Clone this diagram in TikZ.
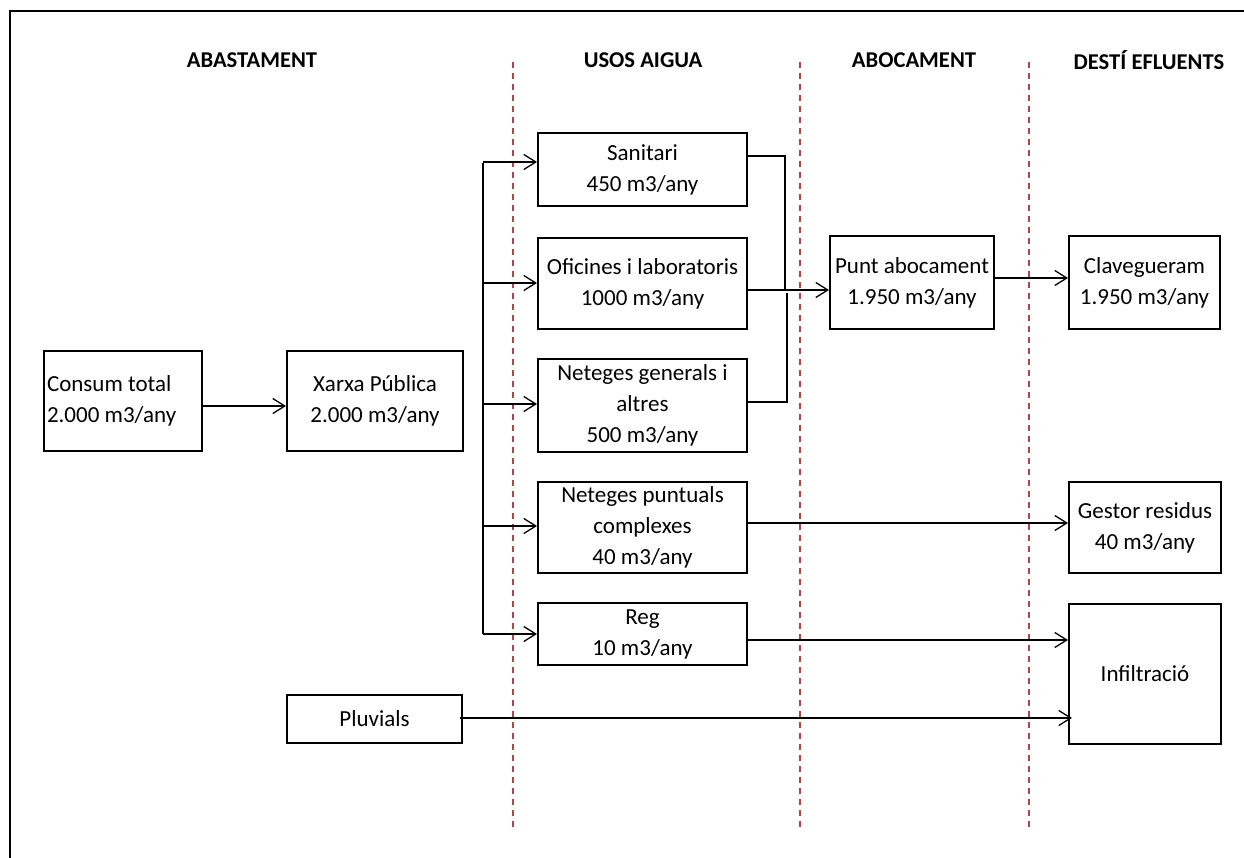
\documentclass[tikz,border=0pt]{standalone}
\usepackage{fontspec}
\setmainfont{Carlito}
\usetikzlibrary{arrows.meta}
\definecolor{sep}{RGB}{172,72,72}
\tikzset{
  box/.style={draw=black, line width=2pt, rectangle, inner sep=2pt, align=center,
    font=\fontsize{23}{31}\selectfont},
  hdr/.style={font=\fontsize{22.6}{26}\selectfont\bfseries},
  conn/.style={line width=1.3pt},
  arr/.style={conn, -{Straight Barb[length=12pt,width=15pt,line width=1.3pt]}},
  sepline/.style={draw=sep, line width=1.4pt, dash pattern=on 6pt off 5pt},
  frame/.style={line width=2pt}
}
\begin{document}
\begin{tikzpicture}[x=1pt,y=-1pt]
\useasboundingbox (0,0) rectangle (1244,858);
% frame
\draw[frame] (10,858) -- (10,11) -- (1244,11);
% headers
\node[hdr] (h1) at (252,60) {ABASTAMENT};
\node[hdr] (h2) at (643,60) {USOS AIGUA};
\node[hdr] (h3) at (914,60) {ABOCAMENT};
\node[hdr] (h4) at (1149,60) {DESTÍ EFLUENTS};
% separators
\draw[sepline] (513,62) -- (513,828);
\draw[sepline] (800,62) -- (800,828);
\draw[sepline] (1029,62) -- (1029,828);
% boxes
\node[box, minimum width=158pt, minimum height=100pt, text width=152pt, align=flush left] (consum) at (123,401) {Consum total\\2.000 m3/any};
\node[box, minimum width=176pt, minimum height=100pt] (xarxa) at (375,401) {Xarxa Pública\\2.000 m3/any};
\node[box, minimum width=209pt, minimum height=73pt] (sanitari) at (642.5,169.5) {Sanitari\\450 m3/any};
\node[box, minimum width=209pt, minimum height=91pt] (oficines) at (642.5,283.5) {Oficines i laboratoris\\1000 m3/any};
\node[box, minimum width=209pt, minimum height=93pt] (netgen) at (642.5,405.5) {Neteges generals i\\altres\\500 m3/any};
\node[box, minimum width=209pt, minimum height=91pt] (netpun) at (642.5,527.5) {Neteges puntuals\\complexes\\40 m3/any};
\node[box, minimum width=209pt, minimum height=62pt] (reg) at (642.5,634) {Reg\\10 m3/any};
\node[box, minimum width=164pt, minimum height=93pt] (punt) at (912,282.5) {Punt abocament\\1.950 m3/any};
\node[box, minimum width=151pt, minimum height=93pt] (clav) at (1144.5,282.5) {Clavegueram\\1.950 m3/any};
\node[box, minimum width=152pt, minimum height=91pt] (gestor) at (1145,527.5) {Gestor residus\\40 m3/any};
\node[box, minimum width=152pt, minimum height=140pt] (infil) at (1145,674) {Infiltració};
\node[box, minimum width=175pt, minimum height=48pt] (pluv) at (374.5,719) {Pluvials};
% consum -> xarxa
\coordinate (c1) at (203,406);
\draw[arr] (c1) -- (c1 -| xarxa.west);
% bus
\coordinate (bt) at (483,163);
\coordinate (bb) at (483,634);
\draw[conn] (bt) -- (bb);
\coordinate (b1) at (483,162);
\coordinate (b2) at (483,283);
\coordinate (b3) at (483,404);
\coordinate (b4) at (483,526);
\coordinate (b5) at (483,634);
\draw[arr] (b1) -- (b1 -| sanitari.west);
\draw[arr] (b2) -- (b2 -| oficines.west);
\draw[arr] (b3) -- (b3 -| netgen.west);
\draw[arr] (b4) -- (b4 -| netpun.west);
\draw[arr] (b5) -- (b5 -| reg.west);
% merge to punt abocament
\coordinate (m1) at (785,156);
\coordinate (m2) at (785,291);
\coordinate (m3) at (787,293);
\coordinate (m4) at (787,402);
\draw[conn] (m1 -| sanitari.east) -- (m1) -- (m2);
\draw[conn] (m4 -| netgen.east) -- (m4) -- (m3);
\coordinate (o1) at (747,290);
\draw[arr] (o1 -| oficines.east) -- (o1 -| punt.west);
% punt -> clavegueram
\coordinate (p1) at (994,278);
\draw[arr] (p1 -| punt.east) -- (p1 -| clav.west);
% netpun -> gestor
\coordinate (n1) at (747,523);
\draw[arr] (n1 -| netpun.east) -- (n1 -| gestor.west);
% reg -> infil
\coordinate (r1) at (747,640);
\draw[arr] (r1 -| reg.east) -- (r1 -| infil.west);
% pluvials -> infil
\coordinate (pl1) at (460,718);
\coordinate (pl2) at (1072,718);
\draw[arr] (pl1) -- (pl2);
\end{tikzpicture}
\end{document}
